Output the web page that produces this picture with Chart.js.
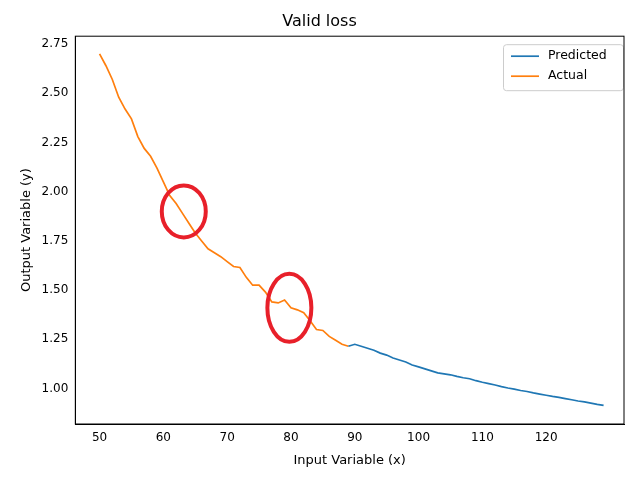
<!DOCTYPE html><html><head><script src="https://cdn.jsdelivr.net/npm/chart.js@4"></script>
<style>html,body{margin:0;background:#fff}#w{width:640px;height:480px}</style></head><body><div id="w"><canvas id="c"></canvas></div>
<script>
const actualX=[50,51,52,53,54,55,56,57,58,59,60,61,62,63,64,65,66,67,68,69,70,71,72,73,74,75,76,77,78,79,80,81,82,83,84,85,86,87,88,89];
const actualY=[2.70,2.64,2.57,2.48,2.42,2.37,2.28,2.22,2.18,2.12,2.05,1.98,1.94,1.89,1.84,1.79,1.75,1.71,1.69,1.67,1.645,1.62,1.615,1.565,1.525,1.525,1.49,1.44,1.435,1.45,1.41,1.40,1.385,1.345,1.30,1.295,1.265,1.245,1.225,1.215];
const predX=[89,90,91,92,93,94,95,96,97,98,99,100,101,102,103,104,105,106,107,108,109,110,111,112,113,114,115,116,117,118,119,120,121,122,123,124,125,126,127,128,129];
const predY=[1.215,1.225,1.215,1.205,1.195,1.18,1.17,1.155,1.145,1.135,1.12,1.11,1.10,1.09,1.08,1.075,1.07,1.062,1.055,1.05,1.04,1.032,1.025,1.018,1.01,1.003,0.997,0.99,0.985,0.978,0.972,0.966,0.96,0.955,0.949,0.943,0.937,0.932,0.926,0.92,0.915];
const xTicks=[50,60,70,80,90,100,110,120,132];
const yTicks=[1.00,1.25,1.50,1.75,2.00,2.25,2.50,2.75];
const circles=[{x:63.2,y:1.90,rx:22,ry:26},{x:79.75,y:1.41,rx:22,ry:34}];
const F='"DejaVu Sans"';
Chart.defaults.font.family=F;Chart.defaults.color='#000';
const circ={id:'circ',afterDatasetsDraw(ch){const c=ch.ctx,xs=ch.scales.x,ys=ch.scales.y;c.save();c.strokeStyle='#e8202a';c.lineWidth=4;
for(const e of circles){c.beginPath();c.ellipse(xs.getPixelForValue(e.x),ys.getPixelForValue(e.y),e.rx,e.ry,0,0,Math.PI*2);c.stroke();}c.restore();}};
const leg={id:'leg',afterDraw(ch){const a=ch.chartArea,c=ch.ctx;c.save();const w=120,h=46,x0=a.right-w-1,y0=a.top+8;
c.fillStyle='rgba(255,255,255,0.8)';c.strokeStyle='#ccc';c.lineWidth=1;c.beginPath();c.roundRect(x0+0.5,y0+0.5,w,h,3);c.fill();c.stroke();
c.font='12.5px '+F;c.textBaseline='middle';c.fillStyle='#000';
ch.data.datasets.forEach((d,i)=>{const y=y0+12+i*20;c.strokeStyle=d.borderColor;c.lineWidth=1.7;c.beginPath();c.moveTo(x0+8,y);c.lineTo(x0+36,y);c.stroke();c.fillText(d.label,x0+45,y);});
c.restore();}};
new Chart(document.getElementById('c'),{type:'line',
data:{datasets:[
{label:'Predicted',data:predX.map((x,i)=>({x,y:predY[i]})),borderColor:'#1f77b4',backgroundColor:'#1f77b4',borderWidth:1.7,pointRadius:0,tension:0},
{label:'Actual',data:actualX.map((x,i)=>({x,y:actualY[i]})),borderColor:'#ff7f0e',backgroundColor:'#ff7f0e',borderWidth:1.7,pointRadius:0,tension:0}]},
options:{animation:false,responsive:true,maintainAspectRatio:false,layout:{padding:{left:15,right:16,top:0,bottom:8}},
plugins:{title:{display:true,text:'Valid loss',font:{size:16,weight:'normal'},padding:{top:12,bottom:5}},
legend:{display:false},tooltip:{enabled:false}},
scales:{x:{type:'linear',min:46.2,max:132.2,afterBuildTicks:a=>{a.ticks=xTicks.map(v=>({value:v}))},
ticks:{font:{size:12},maxRotation:0,callback:v=>v>125?'':v},grid:{display:false,drawTicks:true,tickLength:4,tickColor:'#000'},border:{color:'#000'},
title:{display:true,text:'Input Variable (x)',font:{size:13}}},
y:{min:0.82,max:2.79,afterBuildTicks:a=>{a.ticks=yTicks.map(v=>({value:v}))},ticks:{font:{size:12},callback:v=>v.toFixed(2)},
grid:{display:false,drawTicks:true,tickLength:4,tickColor:'#000'},border:{color:'#000'},title:{display:true,text:'Output Variable (y)',font:{size:13}}}}},
plugins:[circ,leg,{id:'box',afterDraw(ch){const a=ch.chartArea,c=ch.ctx;c.save();c.strokeStyle='#000';c.lineWidth=1;c.strokeRect(a.left,a.top,a.right-a.left,a.bottom-a.top);c.restore();}}]});
</script></body></html>
